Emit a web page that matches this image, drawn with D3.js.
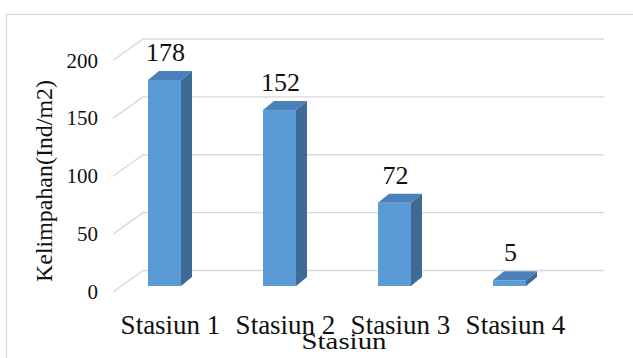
<!DOCTYPE html>
<html>
<head>
<meta charset="utf-8">
<script src="https://cdn.jsdelivr.net/npm/d3@7"></script>
<style>
  html, body { margin: 0; padding: 0; background: #fff; }
  svg { display: block; }
</style>
</head>
<body>
<svg id="chart" width="633" height="358"></svg>
<script>
// Abundance per station (individuals / m2)
const categories = ["Stasiun 1", "Stasiun 2", "Stasiun 3", "Stasiun 4"];
const values = [178, 152, 72, 5];
const yTicks = [0, 50, 100, 150, 200];
const yTitle = "Kelimpahan(Ind/m2)";
const xTitle = "Stasiun";

const svg = d3.select("#chart")
  .attr("font-family", "'Liberation Serif', 'Times New Roman', serif")
  .attr("fill", "#111");

// 3D box geometry: front plane of the axis and the back wall
const wallDx = 30, wallDy = -21.5;     // depth offset of the back wall
const frontLeft = 113, wallRight = 604;
const frontBase = 292;                  // value 0 on the front plane
const backBase = frontBase + wallDy;    // value 0 on the back wall

const yLen = d3.scaleLinear().domain([0, 200]).range([0, 231.5]);
const yFront = v => frontBase - yLen(v);
const yBack = v => backBase - yLen(v);

// Bars sit inside the depth, slightly forward of the back wall
const barBase = 286, barW = 33, barDx = 11, barDy = -9;
const x = d3.scalePoint().domain(categories).range([164.5, 509.5]);

// Chart frame
svg.append("rect")
  .attr("x", 6.5).attr("y", 14.5)
  .attr("width", 700).attr("height", 400)
  .attr("fill", "none").attr("stroke", "#d9d9d9").attr("stroke-width", 1.2);

// Back wall gridlines with their perspective diagonals on the side wall
const grid = svg.append("g").attr("stroke", "#d9d9d9").attr("stroke-width", 1.3).attr("fill", "none");
yTicks.forEach(t => {
  grid.append("path")
    .attr("d", `M${frontLeft},${yFront(t)}L${frontLeft + wallDx},${yBack(t)}L${wallRight},${yBack(t)}`);
});

// Y tick labels on the front plane
svg.append("g").selectAll("text").data(yTicks).join("text")
  .attr("x", 98).attr("y", d => yFront(d) + 7)
  .attr("text-anchor", "end")
  .attr("font-size", 21)
  .text(d => d);

// Bars drawn as three faces: front, side, top
const barG = svg.append("g");
categories.forEach((c, i) => {
  const v = values[i];
  const x0 = x(c) - barW / 2, x1 = x0 + barW;
  const yt = barBase - yLen(v);
  const g = barG.append("g");
  // side face
  g.append("path")
    .attr("d", `M${x1},${barBase}L${x1 + barDx},${barBase + barDy}L${x1 + barDx},${yt + barDy}L${x1},${yt}Z`)
    .attr("fill", "#3e6b96");
  // top face
  g.append("path")
    .attr("d", `M${x0},${yt}L${x0 + barDx},${yt + barDy}L${x1 + barDx},${yt + barDy}L${x1},${yt}Z`)
    .attr("fill", "#4c80ba");
  // front face
  g.append("rect")
    .attr("x", x0).attr("y", yt)
    .attr("width", barW).attr("height", barBase - yt)
    .attr("fill", "#5b9bd5");
  // value label above the bar
  svg.append("text")
    .attr("x", x(c) + 1).attr("y", yt + barDy - 10)
    .attr("text-anchor", "middle")
    .attr("font-size", 26)
    .text(v);
});

// Category labels
svg.append("g").selectAll("text").data(categories).join("text")
  .attr("x", d => x(d) + 6).attr("y", 334)
  .attr("text-anchor", "middle")
  .attr("font-size", 27)
  .text(d => d);

// Axis titles
svg.append("text")
  .attr("x", 344).attr("y", 349)
  .attr("text-anchor", "middle")
  .attr("font-size", 23)
  .attr("textLength", 85).attr("lengthAdjust", "spacingAndGlyphs")
  .text(xTitle);

svg.append("text")
  .attr("transform", "translate(52,181) rotate(-90)")
  .attr("text-anchor", "middle")
  .attr("font-size", 24)
  .attr("textLength", 202).attr("lengthAdjust", "spacingAndGlyphs")
  .text(yTitle);
</script>
</body>
</html>
